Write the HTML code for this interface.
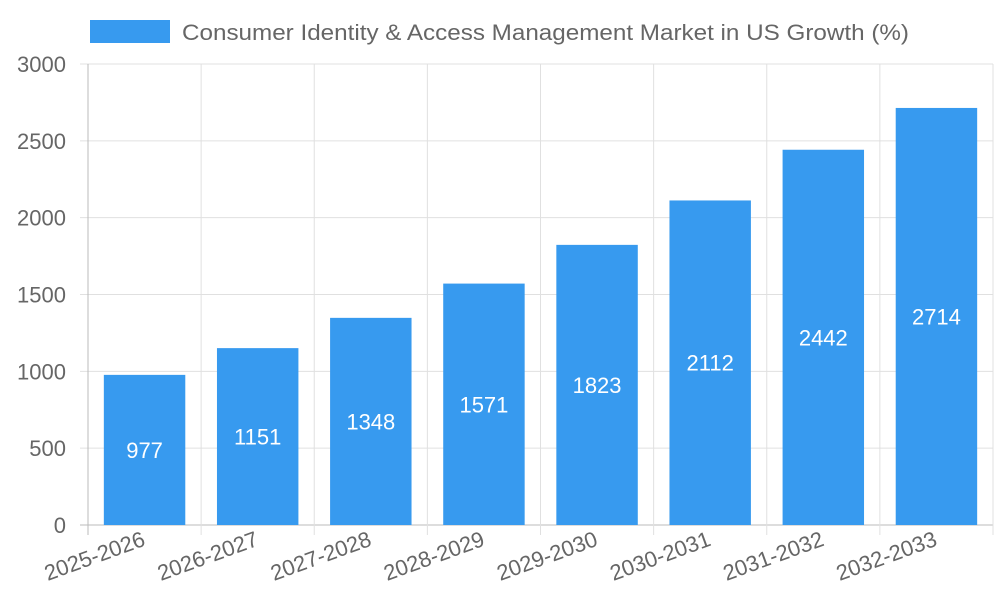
<!DOCTYPE html>
<html><head><meta charset="utf-8"><style>
html,body{margin:0;padding:0;background:#fff;}
svg{display:block;font-family:"Liberation Sans",sans-serif;}
</style></head><body>
<svg id="chart" width="1000" height="600">
  <g>
    <rect x="90" y="20" width="80" height="23" fill="#379aef"></rect>
    <text x="182" y="40" font-size="22" fill="#666" textLength="727" lengthAdjust="spacingAndGlyphs">Consumer Identity &amp; Access Management Market in US Growth (%)</text>
  </g>
  <g id="grid"></g>
  <g id="bars"></g>
  <g id="axes"></g>
</svg>
<script>
const categories = ["2025-2026","2026-2027","2027-2028","2028-2029","2029-2030","2030-2031","2031-2032","2032-2033"];
const values = [977,1151,1348,1571,1823,2112,2442,2714];
const yTicks = [0,500,1000,1500,2000,2500,3000];

const NS = "http://www.w3.org/2000/svg";
const L = 88, R = 993, T = 64, B = 525, yMax = 3000;
const bandW = (R - L) / categories.length;
const y = v => B - (v / yMax) * (B - T);
const xBand = i => L + i * bandW;
function mk(tag, attrs, parent) {
  const e = document.createElementNS(NS, tag);
  for (const k in attrs) e.setAttribute(k, attrs[k]);
  parent.appendChild(e);
  return e;
}
const grid = document.getElementById("grid");
const bars = document.getElementById("bars");
const axes = document.getElementById("axes");

yTicks.forEach(t => {
  const yy = y(t);
  const gl = mk("line", {x1: L - 8, x2: R, y1: yy, y2: yy, stroke: t === 0 ? "#bbb" : "#e0e0e0", "stroke-width": 1}, grid);
  
  
  const tx = mk("text", {x: L - 22, y: yy + 8, "font-size": 22, fill: "#666", "text-anchor": "end"}, axes);
  tx.textContent = t;
  
  
});
for (let i = 0; i <= categories.length; i++) {
  const xx = xBand(i);
  const gl = mk("line", {x1: xx, x2: xx, y1: T, y2: B + 10, stroke: i === 0 ? "#bbb" : "#e0e0e0", "stroke-width": 1}, grid);
  
  
}
categories.forEach((c, i) => {
  const bw = bandW * 0.72;
  const bx = xBand(i) + (bandW - bw) / 2;
  const by = y(values[i]);
  const r = mk("rect", {x: bx, y: by, width: bw, height: B - by, fill: "#379aef"}, bars);
  
  
  const vt = mk("text", {x: bx + bw / 2, y: (by + B) / 2 + 8, "font-size": 22, fill: "#fff", "text-anchor": "middle"}, bars);
  vt.textContent = values[i];
  
  
  const cx = xBand(i) + bandW / 2 + 2;
  const lt = mk("text", {x: cx, y: 545, "font-size": 22, fill: "#666", "text-anchor": "end", transform: "rotate(-20 " + cx + " 545)"}, axes);
  lt.textContent = c;
  
  
});
</script>
</body></html>
